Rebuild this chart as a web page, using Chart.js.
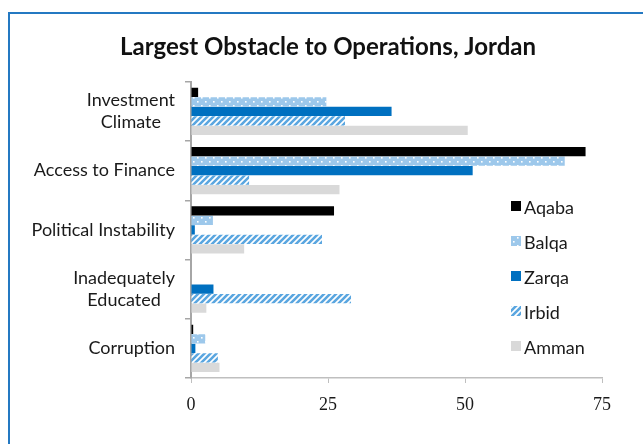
<!DOCTYPE html>
<html>
<head>
<meta charset="utf-8">
<script src="https://cdn.jsdelivr.net/npm/chart.js@4.4.1/dist/chart.umd.min.js"></script>
<style>
    html, body { margin: 0; padding: 0; background: #fff; overflow: hidden; }
    .frame {
        position: absolute;
        left: 8px;
        top: 12px;
        width: 700px;
        height: 500px;
        border-left: 2px solid #2479C2;
        border-top: 2px solid #2479C2;
    }
    .chart-box {
        position: absolute;
        left: 0;
        top: 0;
        width: 643px;
        height: 444px;
    }
</style>
</head>
<body>
<div class="frame"></div>
<div class="chart-box"><canvas id="obstacleChart"></canvas></div>
<script>
const categories = [
    ["Investment", "Climate"],
    ["Access to Finance"],
    ["Political Instability"],
    ["Inadequately", "Educated"],
    ["Corruption"]
];
const seriesNames = ["Aqaba", "Balqa", "Zarqa", "Irbid", "Amman"];
const aqaba = [1.3, 72.0, 26.1, 0, 0.4];
const balqa = [24.7, 68.2, 4.0, 0, 2.6];
const zarqa = [36.6, 51.4, 0.7, 4.1, 0.8];
const irbid = [28.1, 10.6, 23.9, 29.2, 4.9];
const amman = [50.5, 27.1, 9.7, 2.8, 5.2];
const xTicks = [0, 25, 50, 75];

//..fill patterns for Balqa (dots) and Irbid (stripes)
function dotPattern() {
    const c = document.createElement('canvas');
    c.width = 8; c.height = 8;
    const g = c.getContext('2d');
    g.fillStyle = '#9DC8EB';
    g.fillRect(0, 0, 8, 8);
    g.fillStyle = '#ffffff';
    g.fillRect(1, 1, 1.6, 1.6);
    g.fillRect(5, 5, 1.6, 1.6);
    return g.createPattern(c, 'repeat');
}

function stripePattern() {
    const c = document.createElement('canvas');
    c.width = 6; c.height = 6;
    const g = c.getContext('2d');
    g.fillStyle = '#ffffff';
    g.fillRect(0, 0, 6, 6);
    g.strokeStyle = '#5AA6E0';
    g.lineWidth = 2.6;
    g.beginPath();
    g.moveTo(-1, 7); g.lineTo(7, -1);
    g.moveTo(-4, 4); g.lineTo(4, -4);
    g.moveTo(2, 10); g.lineTo(10, 2);
    g.stroke();
    return g.createPattern(c, 'repeat');
}

const fills = ['#000000', dotPattern(), '#0070C0', stripePattern(), '#D9D9D9'];
const seriesData = [aqaba, balqa, zarqa, irbid, amman];

//..category labels, each block centred on its own widest line
const categoryLabels = {
    id: 'categoryLabels',
    afterDraw(chart) {
        const scale = chart.scales.y;
        const ctx = chart.ctx;
        const right = 175;
        const lineH = 22;
        ctx.save();
        ctx.font = '18px Lato';
        ctx.fillStyle = '#1a1a1a';
        ctx.textAlign = 'center';
        ctx.textBaseline = 'middle';
        categories.forEach((lines, i) => {
            const y = scale.getPixelForTick(i);
            const widest = Math.max(...lines.map(l => ctx.measureText(l).width));
            const cx = right - widest / 2;
            const y0 = y - (lines.length - 1) * lineH / 2;
            lines.forEach((l, j) => ctx.fillText(l, cx, y0 + j * lineH));
        });
        ctx.restore();
    }
};

//..legend drawn over the right part of the plot
const sideLegend = {
    id: 'sideLegend',
    afterDraw(chart) {
        const ctx = chart.ctx;
        ctx.save();
        ctx.font = '18px Lato';
        ctx.textBaseline = 'middle';
        ctx.textAlign = 'left';
        chart.data.datasets.forEach((ds, i) => {
            const y = 206 + i * 35;
            ctx.fillStyle = ds.backgroundColor;
            ctx.fillRect(511, y - 5, 10, 10);
            ctx.fillStyle = '#1a1a1a';
            ctx.fillText(ds.label, 524, y + 2);
        });
        ctx.restore();
    }
};

new Chart(document.getElementById('obstacleChart'), {
    type: 'bar',
    data: {
        labels: categories,
        datasets: seriesNames.map((name, i) => ({
            label: name,
            data: seriesData[i],
            backgroundColor: fills[i],
            borderWidth: 0,
            categoryPercentage: 0.8,
            barPercentage: 0.97
        }))
    },
    options: {
        indexAxis: 'y',
        responsive: true,
        maintainAspectRatio: false,
        animation: false,
        layout: {
            padding: { left: 54, right: 41, top: 0, bottom: 0 }
        },
        plugins: {
            legend: { display: false },
            tooltip: { enabled: false },
            title: {
                display: true,
                text: 'Largest Obstacle to Operations, Jordan',
                color: '#111',
                font: { family: 'Lato', size: 24, weight: 'bold' },
                padding: { top: 33, bottom: 20 }
            }
        },
        scales: {
            x: {
                min: 0,
                max: 75,
                afterBuildTicks(scale) {
                    scale.ticks = xTicks.map(v => ({ value: v }));
                },
                afterFit(scale) {
                    scale.height = 66;
                },
                border: { display: true, color: '#BFBFBF', width: 1.5, dash: [4, 3] },
                grid: {
                    drawOnChartArea: false,
                    drawTicks: true,
                    tickLength: 5,
                    color: '#BFBFBF'
                },
                ticks: {
                    color: '#1a1a1a',
                    padding: 11,
                    maxRotation: 0,
                    font: { family: 'Liberation Serif', size: 18 }
                }
            },
            y: {
                afterFit(scale) {
                    scale.width = 137;
                },
                border: { display: true, color: '#A6A6A6', width: 2 },
                grid: {
                    drawOnChartArea: false,
                    drawTicks: true,
                    tickLength: 6,
                    color: '#A6A6A6',
                    lineWidth: 1.5
                },
                ticks: { display: false }
            }
        }
    },
    plugins: [categoryLabels, sideLegend]
});
</script>
</body>
</html>
